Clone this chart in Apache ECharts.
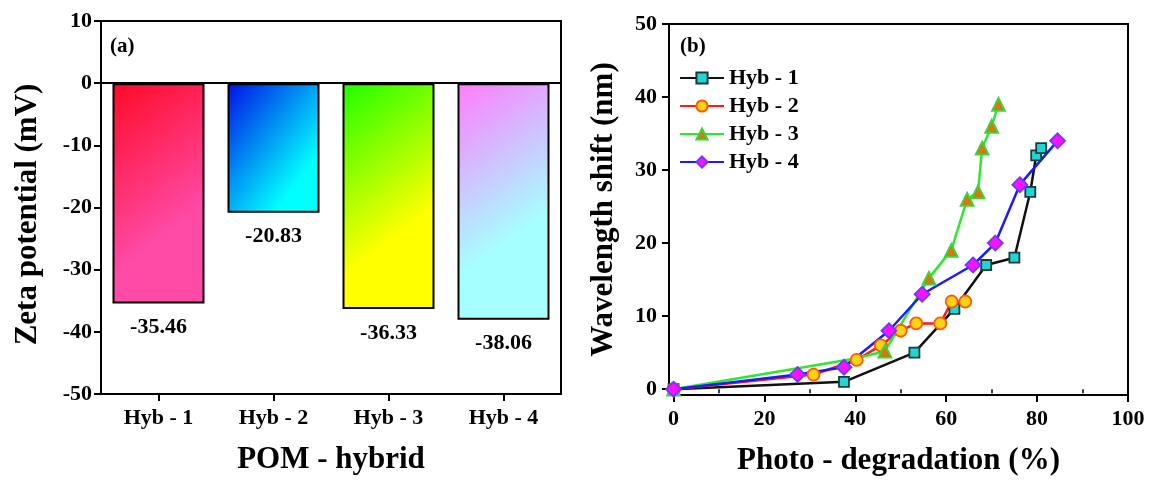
<!DOCTYPE html>
<html>
<head>
<meta charset="utf-8">
<script src="https://cdn.jsdelivr.net/npm/echarts@6/dist/echarts.min.js"></script>
<style>
html,body{margin:0;padding:0;background:#fff;}
#chart{width:1149px;height:482px;}
</style>
</head>
<body>
<div id="chart"></div>
<script>
// ---- Data (panel a) ----
const categories = ['Hyb - 1', 'Hyb - 2', 'Hyb - 3', 'Hyb - 4'];
const zetaValues = [-35.46, -20.83, -36.33, -38.06];
const zetaTicks = [-50, -40, -30, -20, -10, 0, 10];

// ---- Data (panel b) ----
const seriesNames = ['Hyb - 1', 'Hyb - 2', 'Hyb - 3', 'Hyb - 4'];
const hyb1X = [0, 37.5, 53.0, 61.8, 68.8, 75.0, 78.5, 79.8, 80.9];
const hyb1Y = [0, 1, 5, 11, 17, 18, 27, 32, 33];
const hyb2X = [0, 30.8, 40.3, 45.6, 50.0, 53.4, 58.7, 61.2, 64.2];
const hyb2Y = [0, 2, 4, 6, 8, 9, 9, 12, 12];
const hyb3X = [0, 40.0, 46.5, 56.2, 61.1, 64.6, 67.0, 67.9, 70.0, 71.5];
const hyb3Y = [0, 4.2, 5.2, 15.2, 19, 26, 27, 33, 36, 39];
const hyb4X = [0, 27.3, 37.5, 47.4, 54.7, 65.9, 70.8, 76.2, 84.5];
const hyb4Y = [0, 2, 3, 8, 13, 17, 20, 28, 34];
const xTicks = [0, 20, 40, 60, 80, 100];
const xMinorTicks = [10, 30, 50, 70, 90];
const yTicks = [0, 10, 20, 30, 40, 50];

const FONT = "'Liberation Serif', 'Times New Roman', serif";

const barGradients = [
  ['#ff0a26', '#ff4aa6'],
  ['#0010e6', '#00ffff'],
  ['#20ff00', '#ffff00'],
  ['#ff7cff', '#a6ffff']
];

function grad(c) {
  return new echarts.graphic.LinearGradient(0, 0, 1, 0.55, [
    { offset: 0, color: c[0] },
    { offset: 1, color: c[1] }
  ]);
}

function pairs(xs, ys) { return xs.map((x, i) => [x, ys[i]]); }

const lineStyles = [
  { line: '#111111', fill: '#22d4d4', border: '#163c3c', symbol: 'rect', size: 10 },
  { line: '#ff1a1a', fill: '#ffd21a', border: '#ff5a00', symbol: 'circle', size: 12 },
  { line: '#2ee82e', fill: '#d07a10', border: '#3ad63a', symbol: 'triangle', size: 13 },
  { line: '#1a1aff', fill: '#ff10ff', border: '#6a3aff', symbol: 'diamond', size: 15 }
];

const lineData = [
  pairs(hyb1X, hyb1Y),
  pairs(hyb2X, hyb2Y),
  pairs(hyb3X, hyb3Y).map((p, i) => i === 1 ? { value: p, symbolSize: 0 } : p),
  pairs(hyb4X, hyb4Y)
];

const axisLineStyle = { show: true, onZero: false, lineStyle: { color: '#000', width: 2 } };
const labelStyle = { color: '#000', fontFamily: FONT, fontWeight: 'bold', fontSize: 22 };
const nameStyle = { color: '#000', fontFamily: FONT, fontWeight: 'bold', fontSize: 31 };

const chart = echarts.init(document.getElementById('chart'), null, { renderer: 'canvas' });

const option = {
  backgroundColor: '#fff',
  animation: false,
  title: [
    { text: '(a)', left: 105, top: 31, textStyle: { color: '#000', fontFamily: FONT, fontWeight: 'bold', fontSize: 21 } },
    { text: '(b)', left: 675, top: 31, textStyle: { color: '#000', fontFamily: FONT, fontWeight: 'bold', fontSize: 21 } }
  ],
  legend: {
    data: seriesNames,
    orient: 'vertical',
    left: 674,
    top: 62,
    itemWidth: 44,
    itemHeight: 14,
    itemGap: 6,
    textStyle: { color: '#000', fontFamily: FONT, fontWeight: 'bold', fontSize: 22, lineHeight: 22 }
  },
  grid: [
    { left: 101, top: 21, width: 460, height: 373, show: true, borderColor: '#000', borderWidth: 2, backgroundColor: 'transparent' },
    { left: 669, top: 24, width: 459, height: 371, show: true, borderColor: '#000', borderWidth: 2, backgroundColor: 'transparent' }
  ],
  xAxis: [
    {
      type: 'category', gridIndex: 0, data: categories, boundaryGap: true,
      axisLine: axisLineStyle,
      axisTick: { show: true, alignWithLabel: true, length: 7, inside: false, lineStyle: { color: '#000', width: 2 } },
      axisLabel: Object.assign({ margin: 13 }, labelStyle),
      splitLine: { show: false },
      name: 'POM - hybrid', nameLocation: 'middle', nameGap: 50, nameTextStyle: nameStyle
    },
    {
      type: 'value', gridIndex: 1, min: -1, max: 100,
      axisLine: axisLineStyle,
      axisTick: { show: true, customValues: xTicks, length: 7, lineStyle: { color: '#000', width: 2 } },
      axisLabel: Object.assign({ margin: 13, customValues: xTicks }, labelStyle),
      splitLine: { show: false },
      name: 'Photo - degradation (%)', nameLocation: 'middle', nameGap: 50, nameTextStyle: nameStyle
    },
    {
      type: 'value', gridIndex: 1, min: -1, max: 100, position: 'bottom',
      axisLine: { show: false },
      axisTick: { show: true, customValues: xMinorTicks, length: 4, lineStyle: { color: '#000', width: 1.5 } },
      axisLabel: { show: false },
      splitLine: { show: false }
    }
  ],
  yAxis: [
    {
      type: 'value', gridIndex: 0, min: -50, max: 10, interval: 10,
      axisLine: axisLineStyle,
      axisTick: { show: true, length: 7, lineStyle: { color: '#000', width: 2 } },
      axisLabel: Object.assign({ margin: 9, customValues: zetaTicks }, labelStyle),
      splitLine: { show: false },
      name: 'Zeta potential (mV)', nameLocation: 'middle', nameGap: 58,
      nameTextStyle: Object.assign({ padding: [0, 14, 0, 0] }, nameStyle)
    },
    {
      type: 'value', gridIndex: 1, min: -0.8, max: 50,
      axisLine: axisLineStyle,
      axisTick: { show: true, customValues: yTicks, length: 7, lineStyle: { color: '#000', width: 2 } },
      axisLabel: Object.assign({ margin: 12, customValues: yTicks }, labelStyle),
      splitLine: { show: false },
      name: 'Wavelength shift (nm)', nameLocation: 'middle', nameGap: 50, nameTextStyle: nameStyle
    }
  ],
  series: [
    {
      type: 'bar', name: 'Zeta', xAxisIndex: 0, yAxisIndex: 0,
      barWidth: '80%',
      data: zetaValues.map((v, i) => ({
        value: v,
        itemStyle: { color: grad(barGradients[i]), borderColor: '#000', borderWidth: 2 }
      })),
      label: {
        show: true, position: 'bottom', distance: 13,
        formatter: p => p.value.toFixed(2),
        color: '#000', fontFamily: FONT, fontWeight: 'bold', fontSize: 22
      },
      markLine: {
        silent: true, symbol: ['none', 'none'],
        label: { show: false },
        lineStyle: { color: '#000', width: 2, type: 'solid' },
        data: [{ yAxis: 0 }]
      }
    }
  ].concat(seriesNames.map((name, i) => ({
    type: 'line', name: name, xAxisIndex: 1, yAxisIndex: 1,
    data: lineData[i],
    symbol: lineStyles[i].symbol,
    symbolSize: lineStyles[i].size,
    showAllSymbol: true,
    clip: false,
    lineStyle: { color: lineStyles[i].line, width: 2.5 },
    itemStyle: { color: lineStyles[i].fill, borderColor: lineStyles[i].border, borderWidth: 1.8 }
  })))
};

chart.setOption(option);
</script>
</body>
</html>
